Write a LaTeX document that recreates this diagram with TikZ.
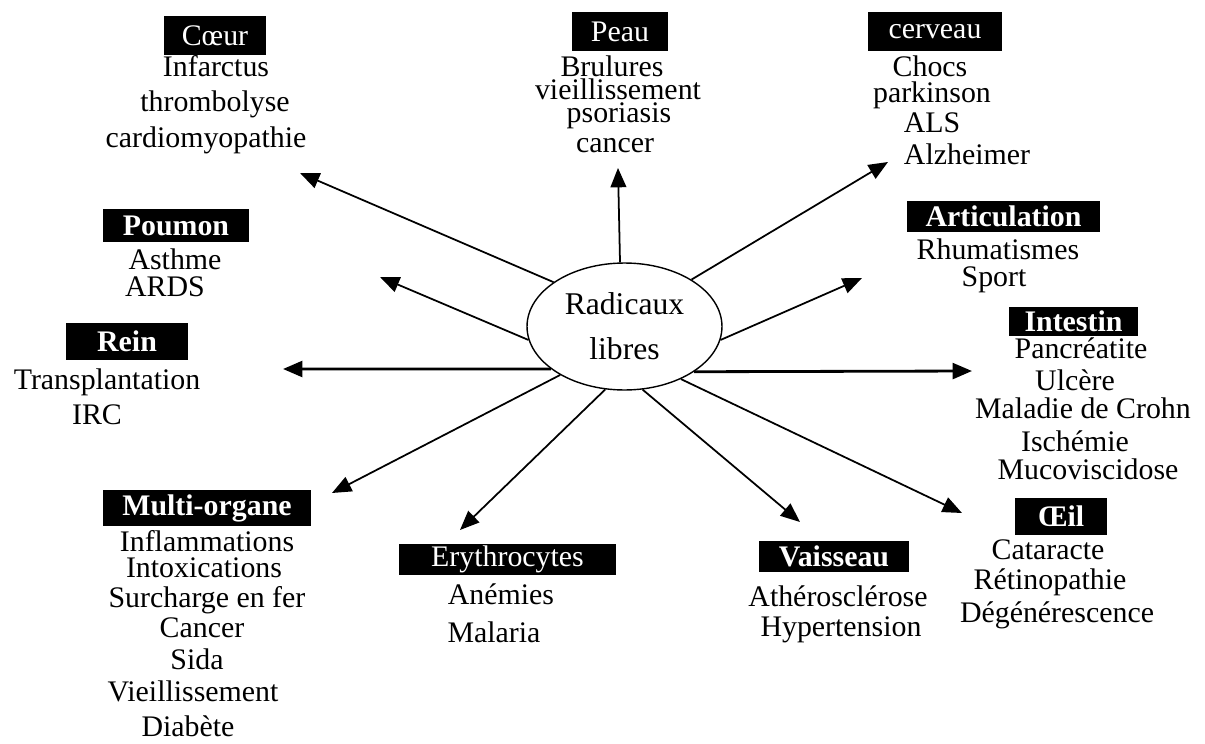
\documentclass[tikz,border=0pt]{standalone}
\usepackage{fontspec}
\setmainfont{Liberation Serif}
\usetikzlibrary{arrows.meta,shapes.geometric}
\newcommand\lblfont{\fontsize{17}{20}\selectfont}
\tikzset{
  lbl/.style={font=\lblfont, anchor=mid, inner sep=0pt},
  orgbox/.style={fill=black, text=white, font=\lblfont, inner sep=0pt, anchor=center},
  orgboxb/.style={orgbox, font=\lblfont\bfseries},
  arr/.style={-{Triangle[length=11pt,width=9pt]}, line width=1pt, black},
  harr/.style={arr, line width=1.6pt}
}
\begin{document}
\begin{tikzpicture}[x=0.02cm, y=-0.02cm]
\useasboundingbox (0,0) rectangle (1205,744);

% centre
\node[ellipse, draw, line width=0.8pt, minimum width=3.9cm, minimum height=2.54cm,
      inner sep=0pt, align=center, font=\fontsize{18}{25.5}\selectfont] (rl) at (624.5,326.5)
      {Radicaux\\libres};

% organ boxes
\node[orgbox,  minimum width=2.04cm, minimum height=0.78cm] (coeur) at (215,35.5) {Cœur};
\node[orgbox,  minimum width=1.94cm, minimum height=0.78cm] (peau) at (620,31.5) {Peau};
\node[orgbox,  minimum width=2.68cm, minimum height=0.78cm] (cerveau) at (935,31.5) {cerveau};
\node[orgboxb, minimum width=2.94cm, minimum height=0.66cm] (poumon) at (176,225.5) {Poumon};
\node[orgboxb, minimum width=2.44cm, minimum height=0.74cm] (rein) at (127,341.5) {Rein};
\node[orgboxb, minimum width=3.86cm, minimum height=0.62cm] (artic) at (1003.5,216.5) {Articulation};
\node[orgboxb, minimum width=2.58cm, minimum height=0.58cm] (intestin) at (1073.5,321.5) {Intestin};
\node[orgboxb, minimum width=4.16cm, minimum height=0.72cm] (multi) at (207,508) {Multi-organe};
\node[orgbox,  minimum width=4.34cm, minimum height=0.62cm] (eryth) at (507.5,559.5) {Erythrocytes};
\node[orgboxb, minimum width=3.00cm, minimum height=0.62cm] (vaisseau) at (834,556.5) {Vaisseau};
\node[orgboxb, minimum width=1.84cm, minimum height=0.74cm] (oeil) at (1061,516.5) {Œil};

% texts
\node[lbl] (c1) at (216,72) {Infarctus};
\node[lbl] (c2) at (215,107) {thrombolyse};
\node[lbl] (c3) at (206,143) {cardiomyopathie};

\node[lbl] (p1) at (612,72) {Brulures};
\node[lbl] (p2) at (618,95) {vieillissement};
\node[lbl] (p3) at (619,118) {psoriasis};
\node[lbl] (p4) at (615,148) {cancer};

\node[lbl] (v1) at (930,72) {Chocs};
\node[lbl] (v2) at (932,98) {parkinson};
\node[lbl] (v3) at (932,128) {ALS};
\node[lbl] (v4) at (967,160) {Alzheimer};

\node[lbl] (po1) at (175,265) {Asthme};
\node[lbl] (po2) at (165,292) {ARDS};

\node[lbl] (r1) at (107,385) {Transplantation};
\node[lbl] (r2) at (97,420) {IRC};

\node[lbl] (a1) at (998,255) {Rhumatismes};
\node[lbl] (a2) at (994,282) {Sport};

\node[lbl] (i1) at (1081,354) {Pancréatite};
\node[lbl] (i2) at (1075,386) {Ulcère};
\node[lbl] (i3) at (1083,414) {Maladie de Crohn};
\node[lbl] (i4) at (1075,447) {Ischémie};
\node[lbl] (i5) at (1088,475) {Mucoviscidose};

\node[lbl] (m1) at (207,547) {Inflammations};
\node[lbl] (m2) at (204,573) {Intoxications};
\node[lbl] (m3) at (207,603) {Surcharge en fer};
\node[lbl] (m4) at (202,633) {Cancer};
\node[lbl] (m5) at (197,665) {Sida};
\node[lbl] (m6) at (193,697) {Vieillissement};
\node[lbl] (m7) at (188,732) {Diabète};

\node[lbl] (e1) at (501,600) {Anémies};
\node[lbl] (e2) at (494,638) {Malaria};

\node[lbl] (va1) at (838,602) {Athérosclérose};
\node[lbl] (va2) at (841,632) {Hypertension};

\node[lbl] (o1) at (1048,555) {Cataracte};
\node[lbl] (o2) at (1050,585) {Rétinopathie};
\node[lbl] (o3) at (1057,618) {Dégénérescence};

% arrow tips
\coordinate (tcoeur) at (300,173);
\coordinate (tpeau) at (618,168);
\coordinate (tcerveau) at (888,162);
\coordinate (tpoumon) at (380,277);
\coordinate (tartic) at (862,278);
\coordinate (trein) at (283,369);
\coordinate (tintestin) at (972,371);
\coordinate (tmulti) at (332,493);
\coordinate (teryth) at (460,530);
\coordinate (tvaisseau) at (800,522);
\coordinate (toeil) at (962,513);

% arrows
\draw[arr] (rl.148) -- (tcoeur);
\draw[arr] (rl.94) -- (tpeau);
\draw[arr] (rl.35) -- (tcerveau);
\draw[arr] (rl.188) -- (tpoumon);
\draw[arr] (rl.352) -- (tartic);
\draw[harr] (rl.210.4) -- (trein);
\draw[harr] (rl.327.4) -- (tintestin);
\draw[arr] (rl.217.6) -- (tmulti);
\draw[arr] (rl.253) -- (teryth);
\draw[arr] (rl.286) -- (tvaisseau);
\draw[arr] (rl.317) -- (toeil);
\end{tikzpicture}
\end{document}
